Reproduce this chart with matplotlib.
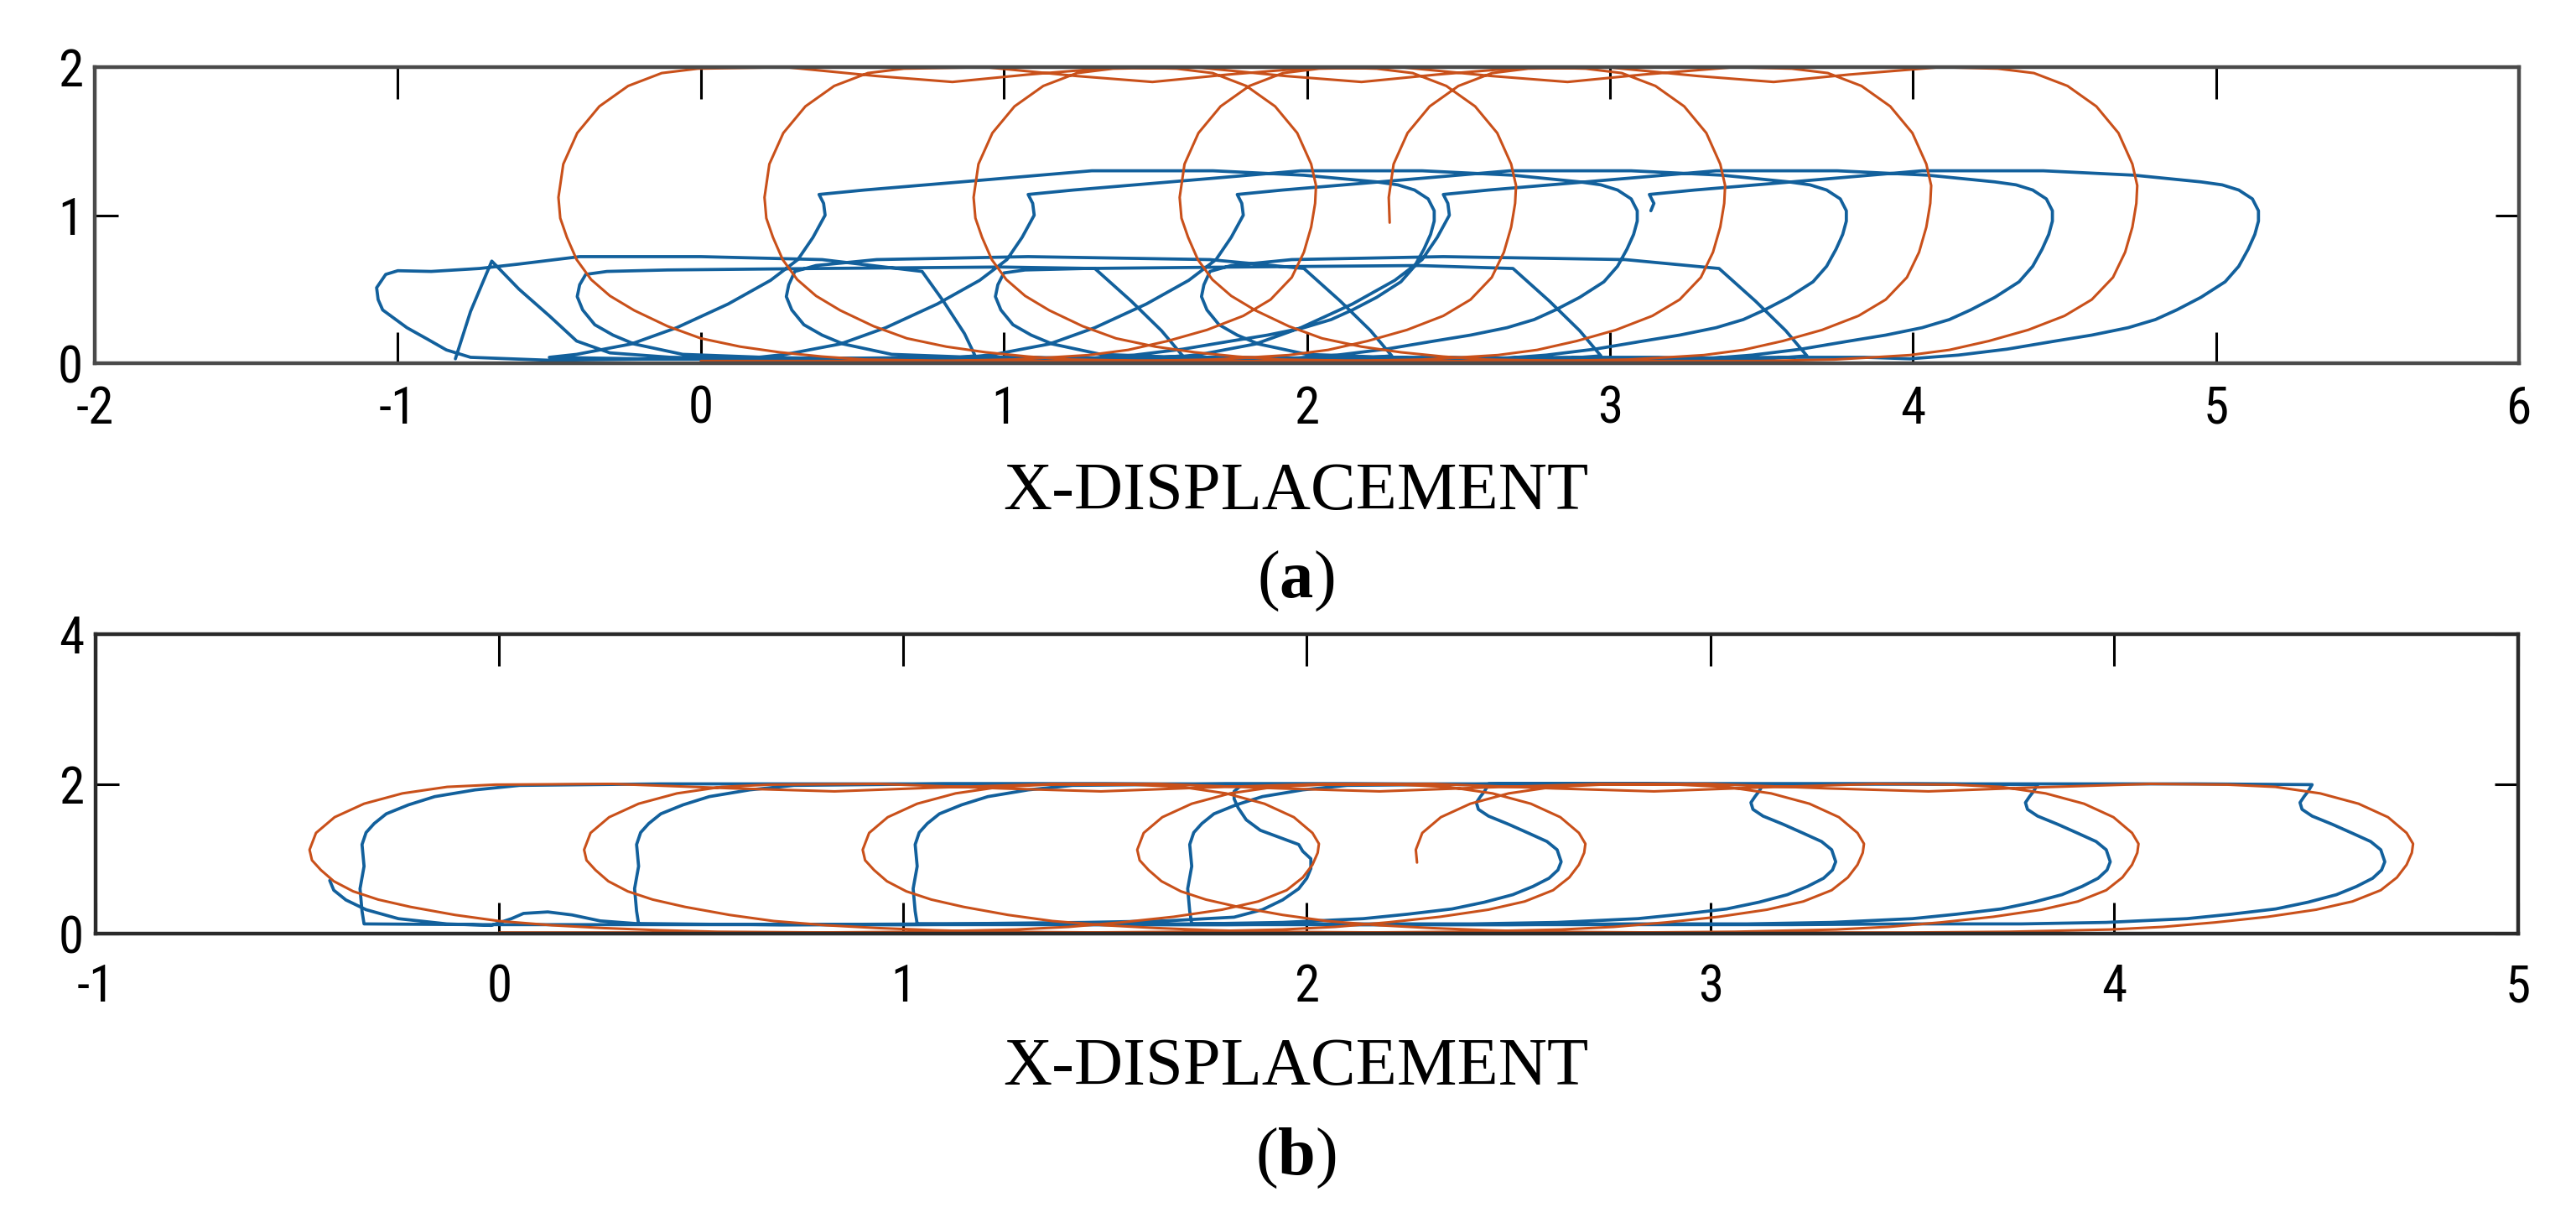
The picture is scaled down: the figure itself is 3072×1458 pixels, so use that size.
import numpy as np
import matplotlib
matplotlib.use("Agg")
import matplotlib.pyplot as plt
from matplotlib import font_manager

# ---------------- data ----------------
# reference (desired) trajectory, orange, same in both panels
ORANGE_PATH = [
    (0.00, 0.015), (0.30, 0.015), (0.60, 0.015),
    # loop 1
    (0.78, 0.015), (1.03, 0.025), (1.16, 0.04), (1.28, 0.055), (1.41, 0.09), (1.54, 0.15), (1.67, 0.225),
    (1.79, 0.32), (1.88, 0.43), (1.95, 0.58), (1.99, 0.75), (2.014, 0.92), (2.027, 1.08), (2.03, 1.2),
    (2.014, 1.345), (1.968, 1.555), (1.895, 1.735), (1.80, 1.873), (1.689, 1.96), (1.57, 1.99),
    (1.38, 2.00), (1.08, 1.95), (0.83, 1.90), (0.58, 1.94), (0.28, 2.00),
    (-0.01, 1.99), (-0.129, 1.96), (-0.24, 1.873), (-0.335, 1.735), (-0.408, 1.555), (-0.454, 1.345),
    (-0.47, 1.12), (-0.464, 0.98), (-0.442, 0.85), (-0.41, 0.70), (-0.362, 0.565), (-0.30, 0.455),
    (-0.22, 0.357), (-0.11, 0.25), (0.00, 0.168), (0.13, 0.112), (0.26, 0.074), (0.40, 0.045),
    (0.54, 0.025), (0.83, 0.015),
    # loop 2
    (1.44, 0.015), (1.69, 0.025), (1.82, 0.04), (1.94, 0.055), (2.07, 0.09), (2.20, 0.15), (2.33, 0.225),
    (2.45, 0.32), (2.54, 0.43), (2.61, 0.58), (2.65, 0.75), (2.674, 0.92), (2.687, 1.08), (2.69, 1.2),
    (2.674, 1.345), (2.628, 1.555), (2.555, 1.735), (2.46, 1.873), (2.349, 1.96), (2.23, 1.99),
    (2.04, 2.00), (1.74, 1.95), (1.49, 1.90), (1.24, 1.94), (0.94, 2.00),
    (0.67, 1.99), (0.551, 1.96), (0.44, 1.873), (0.345, 1.735), (0.272, 1.555), (0.226, 1.345),
    (0.21, 1.12), (0.216, 0.98), (0.238, 0.85), (0.27, 0.70), (0.318, 0.565), (0.38, 0.455),
    (0.46, 0.357), (0.57, 0.25), (0.68, 0.168), (0.81, 0.112), (0.94, 0.074), (1.08, 0.045),
    (1.22, 0.025), (1.51, 0.015),
    # loop 3
    (2.13, 0.015), (2.38, 0.025), (2.51, 0.04), (2.63, 0.055), (2.76, 0.09), (2.89, 0.15), (3.02, 0.225),
    (3.14, 0.32), (3.23, 0.43), (3.30, 0.58), (3.34, 0.75), (3.364, 0.92), (3.377, 1.08), (3.38, 1.2),
    (3.364, 1.345), (3.318, 1.555), (3.245, 1.735), (3.15, 1.873), (3.039, 1.96), (2.92, 1.99),
    (2.73, 2.00), (2.43, 1.95), (2.18, 1.90), (1.93, 1.94), (1.63, 2.00),
    (1.36, 1.99), (1.241, 1.96), (1.13, 1.873), (1.035, 1.735), (0.962, 1.555), (0.916, 1.345),
    (0.90, 1.12), (0.906, 0.98), (0.928, 0.85), (0.96, 0.70), (1.008, 0.565), (1.07, 0.455),
    (1.15, 0.357), (1.26, 0.25), (1.37, 0.168), (1.50, 0.112), (1.63, 0.074), (1.77, 0.045),
    (1.91, 0.025), (2.20, 0.015),
    # loop 4
    (2.81, 0.015), (3.06, 0.025), (3.19, 0.04), (3.31, 0.055), (3.44, 0.09), (3.57, 0.15), (3.70, 0.225),
    (3.82, 0.32), (3.91, 0.43), (3.98, 0.58), (4.02, 0.75), (4.044, 0.92), (4.057, 1.08), (4.06, 1.2),
    (4.044, 1.345), (3.998, 1.555), (3.925, 1.735), (3.83, 1.873), (3.719, 1.96), (3.60, 1.99),
    (3.41, 2.00), (3.11, 1.95), (2.86, 1.90), (2.61, 1.94), (2.31, 2.00),
    (2.04, 1.99), (1.921, 1.96), (1.81, 1.873), (1.715, 1.735), (1.642, 1.555), (1.596, 1.345),
    (1.58, 1.12), (1.586, 0.98), (1.608, 0.85), (1.64, 0.70), (1.688, 0.565), (1.75, 0.455),
    (1.83, 0.357), (1.94, 0.25), (2.05, 0.168), (2.18, 0.112), (2.31, 0.074), (2.45, 0.045),
    (2.59, 0.025), (2.88, 0.015),
    # loop 5
    (3.49, 0.015), (3.74, 0.025), (3.87, 0.04), (3.99, 0.055), (4.12, 0.09), (4.25, 0.15), (4.38, 0.225),
    (4.50, 0.32), (4.59, 0.43), (4.66, 0.58), (4.70, 0.75), (4.724, 0.92), (4.737, 1.08), (4.74, 1.2),
    (4.724, 1.345), (4.678, 1.555), (4.605, 1.735), (4.51, 1.873), (4.399, 1.96), (4.28, 1.99),
    (4.09, 2.00), (3.79, 1.95), (3.54, 1.90), (3.29, 1.94), (2.99, 2.00),
    (2.73, 1.99), (2.611, 1.96), (2.50, 1.873), (2.405, 1.735), (2.332, 1.555), (2.286, 1.345),
    (2.27, 1.12), (2.273, 0.95),
]

# actual trajectory, panel (a), blue
BLUE_A_PATH = [
    (-0.81, 0.03), (-0.76, 0.35), (-0.69, 0.69), (-0.60, 0.50), (-0.50, 0.32), (-0.41, 0.15), (-0.30, 0.07),
    (-0.10, 0.04), (0.20, 0.03), (0.50, 0.03), (0.80, 0.03), (0.905, 0.05), (0.87, 0.20), (0.80, 0.42),
    (0.73, 0.62), (0.40, 0.70), (0.00, 0.72), (-0.40, 0.72), (-0.60, 0.67), (-0.73, 0.64), (-0.89, 0.62),
    (-1.00, 0.625), (-1.04, 0.60), (-1.07, 0.51), (-1.065, 0.43), (-1.05, 0.36), (-1.01, 0.30),
    (-0.97, 0.24), (-0.90, 0.16), (-0.84, 0.09), (-0.76, 0.04), (-0.50, 0.02),
    (-0.10, 0.03), (0.30, 0.03), (0.80, 0.04), (1.10, 0.04),
    # cycle 1
    (1.27, 0.03), (1.43, 0.055), (1.59, 0.095), (1.75, 0.15), (1.87, 0.19), (1.99, 0.24), (2.08, 0.295),
    (2.15, 0.36), (2.23, 0.445), (2.31, 0.55), (2.355, 0.655), (2.386, 0.77), (2.408, 0.87), (2.42, 0.96),
    (2.42, 1.03), (2.40, 1.11), (2.355, 1.17), (2.30, 1.205), (2.23, 1.225),
    (1.99, 1.27), (1.69, 1.30), (1.29, 1.30), (0.86, 1.225), (0.54, 1.17), (0.39, 1.14),
    (0.405, 1.08), (0.41, 1.00), (0.37, 0.85), (0.32, 0.70), (0.23, 0.56), (0.09, 0.40), (-0.08, 0.24),
    (-0.23, 0.13), (-0.41, 0.06), (-0.50, 0.04),
    (-0.21, 0.03), (0.39, 0.03), (0.99, 0.03), (1.46, 0.03), (1.59, 0.05),
    (1.52, 0.22), (1.42, 0.42), (1.30, 0.64),
    (0.99, 0.65), (0.39, 0.64), (-0.11, 0.63), (-0.31, 0.62), (-0.38, 0.60),
    (-0.40, 0.53), (-0.408, 0.45), (-0.39, 0.36), (-0.35, 0.26), (-0.29, 0.19), (-0.22, 0.13), (-0.06, 0.06),
    (0.34, 0.03), (0.94, 0.03), (1.50, 0.04), (1.79, 0.04),
    # cycle 2
    (1.94, 0.03), (2.10, 0.055), (2.26, 0.095), (2.42, 0.15), (2.54, 0.19), (2.66, 0.24), (2.75, 0.295),
    (2.82, 0.36), (2.90, 0.445), (2.98, 0.55), (3.025, 0.655), (3.056, 0.77), (3.078, 0.87), (3.09, 0.96),
    (3.09, 1.03), (3.07, 1.11), (3.025, 1.17), (2.97, 1.205), (2.90, 1.225),
    (2.68, 1.27), (2.38, 1.30), (1.98, 1.30), (1.55, 1.225), (1.23, 1.17), (1.08, 1.14),
    (1.095, 1.08), (1.10, 1.00), (1.06, 0.85), (1.01, 0.70), (0.92, 0.56), (0.78, 0.40), (0.61, 0.24),
    (0.46, 0.13), (0.28, 0.06), (0.19, 0.04),
    (0.48, 0.03), (1.08, 0.03), (1.68, 0.03), (2.15, 0.03), (2.28, 0.05),
    (2.21, 0.22), (2.11, 0.42), (1.99, 0.64),
    (1.68, 0.70), (1.08, 0.72), (0.58, 0.70), (0.38, 0.66), (0.31, 0.62),
    (0.29, 0.53), (0.282, 0.45), (0.30, 0.36), (0.34, 0.26), (0.40, 0.19), (0.47, 0.13), (0.63, 0.06),
    (1.03, 0.03), (1.63, 0.03), (2.19, 0.04), (2.48, 0.04),
    # cycle 3
    (2.63, 0.03), (2.79, 0.055), (2.95, 0.095), (3.11, 0.15), (3.23, 0.19), (3.35, 0.24), (3.44, 0.295),
    (3.51, 0.36), (3.59, 0.445), (3.67, 0.55), (3.715, 0.655), (3.746, 0.77), (3.768, 0.87), (3.78, 0.96),
    (3.78, 1.03), (3.76, 1.11), (3.715, 1.17), (3.66, 1.205), (3.59, 1.225),
    (3.37, 1.27), (3.07, 1.30), (2.67, 1.30), (2.24, 1.225), (1.92, 1.17), (1.77, 1.14),
    (1.785, 1.08), (1.79, 1.00), (1.75, 0.85), (1.70, 0.70), (1.61, 0.56), (1.47, 0.40), (1.30, 0.24),
    (1.15, 0.13), (0.97, 0.06), (0.88, 0.04),
    (1.17, 0.03), (1.77, 0.03), (2.37, 0.03), (2.84, 0.03), (2.97, 0.05),
    (2.90, 0.22), (2.80, 0.42), (2.68, 0.64),
    (2.37, 0.66), (1.77, 0.65), (1.27, 0.64), (1.07, 0.63), (1.00, 0.61),
    (0.98, 0.53), (0.972, 0.45), (0.99, 0.36), (1.03, 0.26), (1.09, 0.19), (1.16, 0.13), (1.32, 0.06),
    (1.72, 0.03), (2.32, 0.03), (2.88, 0.04), (3.16, 0.04),
    # cycle 4
    (3.31, 0.03), (3.47, 0.055), (3.63, 0.095), (3.79, 0.15), (3.91, 0.19), (4.03, 0.24), (4.12, 0.295),
    (4.19, 0.36), (4.27, 0.445), (4.35, 0.55), (4.395, 0.655), (4.426, 0.77), (4.448, 0.87), (4.46, 0.96),
    (4.46, 1.03), (4.44, 1.11), (4.395, 1.17), (4.34, 1.205), (4.27, 1.225),
    (4.05, 1.27), (3.75, 1.30), (3.35, 1.30), (2.92, 1.225), (2.60, 1.17), (2.45, 1.14),
    (2.465, 1.08), (2.47, 1.00), (2.43, 0.85), (2.38, 0.70), (2.29, 0.56), (2.15, 0.40), (1.98, 0.24),
    (1.83, 0.13), (1.65, 0.06), (1.56, 0.04),
    (1.85, 0.03), (2.45, 0.03), (3.05, 0.03), (3.52, 0.03), (3.65, 0.05),
    (3.58, 0.22), (3.48, 0.42), (3.36, 0.64),
    (3.05, 0.70), (2.45, 0.72), (1.95, 0.70), (1.75, 0.66), (1.68, 0.62),
    (1.66, 0.53), (1.652, 0.45), (1.67, 0.36), (1.71, 0.26), (1.77, 0.19), (1.84, 0.13), (2.00, 0.06),
    (2.40, 0.03), (3.00, 0.03), (3.56, 0.04), (3.84, 0.04),
    # cycle 5
    (3.99, 0.03), (4.15, 0.055), (4.31, 0.095), (4.47, 0.15), (4.59, 0.19), (4.71, 0.24), (4.80, 0.295),
    (4.87, 0.36), (4.95, 0.445), (5.03, 0.55), (5.075, 0.655), (5.106, 0.77), (5.128, 0.87), (5.14, 0.96),
    (5.14, 1.03), (5.12, 1.11), (5.075, 1.17), (5.02, 1.205), (4.95, 1.225),
    (4.73, 1.27), (4.43, 1.30), (4.03, 1.30), (3.60, 1.225), (3.28, 1.17), (3.13, 1.14),
    (3.145, 1.08), (3.135, 1.03),
]

# actual trajectory, panel (b), blue
BLUE_B_PATH = [
    (-0.42, 0.71), (-0.41, 0.58), (-0.38, 0.45), (-0.33, 0.32), (-0.25, 0.20), (-0.13, 0.13), (-0.02, 0.11),
    (0.03, 0.20), (0.06, 0.27), (0.12, 0.29), (0.18, 0.25), (0.25, 0.17), (0.35, 0.13), (0.70, 0.12),
    (1.10, 0.13), (1.45, 0.15), (1.65, 0.17),
    (1.82, 0.22), (1.89, 0.32), (1.94, 0.45), (1.98, 0.60), (2.00, 0.74), (2.01, 0.87), (2.01, 1.00),
    (1.99, 1.10), (1.98, 1.19), (1.93, 1.29), (1.885, 1.38), (1.85, 1.52), (1.83, 1.68), (1.82, 1.80),
    (1.82, 1.90), (1.84, 1.99),
    (1.50, 2.00), (0.90, 2.00), (0.40, 2.00),
    (0.05, 1.98), (-0.06, 1.92), (-0.16, 1.83), (-0.225, 1.72), (-0.28, 1.60), (-0.31, 1.47), (-0.33, 1.35),
    (-0.34, 1.19), (-0.335, 0.90), (-0.345, 0.60), (-0.34, 0.30), (-0.335, 0.13),
    (-0.05, 0.12), (0.50, 0.12), (1.00, 0.12), (1.40, 0.13),
    (1.73, 0.13), (1.94, 0.15), (2.14, 0.20), (2.25, 0.26), (2.36, 0.33), (2.44, 0.42), (2.51, 0.52),
    (2.56, 0.63), (2.60, 0.74), (2.622, 0.85), (2.63, 0.96), (2.62, 1.12), (2.595, 1.23), (2.55, 1.34),
    (2.50, 1.46), (2.45, 1.57), (2.425, 1.66), (2.42, 1.75), (2.43, 1.83), (2.44, 1.90), (2.45, 1.99),
    (2.10, 2.00), (1.50, 2.00), (1.10, 2.00),
    (0.73, 1.98), (0.62, 1.92), (0.52, 1.83), (0.455, 1.72), (0.40, 1.60), (0.37, 1.47), (0.35, 1.35),
    (0.34, 1.19), (0.345, 0.90), (0.335, 0.60), (0.34, 0.30), (0.345, 0.13),
    (0.70, 0.12), (1.20, 0.12), (1.80, 0.12), (2.10, 0.13),
    (2.41, 0.13), (2.62, 0.15), (2.82, 0.20), (2.93, 0.26), (3.04, 0.33), (3.12, 0.42), (3.19, 0.52),
    (3.24, 0.63), (3.28, 0.74), (3.302, 0.85), (3.31, 0.96), (3.30, 1.12), (3.275, 1.23), (3.23, 1.34),
    (3.18, 1.46), (3.13, 1.57), (3.105, 1.66), (3.10, 1.75), (3.11, 1.83), (3.12, 1.90), (3.13, 1.99),
    (2.80, 2.00), (2.20, 2.00), (1.80, 2.00),
    (1.42, 1.98), (1.31, 1.92), (1.21, 1.83), (1.145, 1.72), (1.09, 1.60), (1.06, 1.47), (1.04, 1.35),
    (1.03, 1.19), (1.035, 0.90), (1.025, 0.60), (1.03, 0.30), (1.035, 0.13),
    (1.40, 0.12), (2.00, 0.12), (2.50, 0.12), (2.80, 0.13),
    (3.09, 0.13), (3.30, 0.15), (3.50, 0.20), (3.61, 0.26), (3.72, 0.33), (3.80, 0.42), (3.87, 0.52),
    (3.92, 0.63), (3.96, 0.74), (3.982, 0.85), (3.99, 0.96), (3.98, 1.12), (3.955, 1.23), (3.91, 1.34),
    (3.86, 1.46), (3.81, 1.57), (3.785, 1.66), (3.78, 1.75), (3.79, 1.83), (3.80, 1.90), (3.81, 1.99),
    (3.50, 2.00), (2.90, 2.00), (2.50, 2.00),
    (2.10, 1.98), (1.99, 1.92), (1.89, 1.83), (1.825, 1.72), (1.77, 1.60), (1.74, 1.47), (1.72, 1.35),
    (1.71, 1.19), (1.715, 0.90), (1.705, 0.60), (1.71, 0.30), (1.715, 0.13),
    (2.10, 0.12), (2.70, 0.12), (3.20, 0.12), (3.50, 0.13),
    (3.77, 0.13), (3.98, 0.15), (4.18, 0.20), (4.29, 0.26), (4.40, 0.33), (4.48, 0.42), (4.55, 0.52),
    (4.60, 0.63), (4.64, 0.74), (4.662, 0.85), (4.67, 0.96), (4.66, 1.12), (4.635, 1.23), (4.59, 1.34),
    (4.54, 1.46), (4.49, 1.57), (4.465, 1.66), (4.46, 1.75), (4.47, 1.83), (4.48, 1.90), (4.49, 1.99),
    (4.20, 2.00), (3.60, 2.00), (3.00, 2.00), (2.45, 2.00),
]

XTICKS_A = [-2, -1, 0, 1, 2, 3, 4, 5, 6]
YTICKS_A = [0, 1, 2]
XTICKS_B = [-1, 0, 1, 2, 3, 4, 5]
YTICKS_B = [0, 2, 4]
XLABEL = "X-DISPLACEMENT"
PANEL_LETTERS = ["a", "b"]

BLUE = "#12609c"
ORANGE = "#c9501a"

# ---------------- fonts ----------------
entries = font_manager.fontManager.ttflist
names = {f.name for f in entries}
TICK_FONT, TICK_STRETCH, TICK_SIZE = "Liberation Sans", "normal", 44
for cand in ["Liberation Sans Narrow", "Arial Narrow", "Nimbus Sans Narrow", "Roboto Condensed",
             "Open Sans Condensed"]:
    if cand in names:
        TICK_FONT, TICK_STRETCH, TICK_SIZE = cand, "normal", 44
        break
else:
    for f in entries:
        if f.name in ("DejaVu Sans", "Open Sans", "Roboto", "Noto Sans") and \
                str(f.stretch) in ("condensed", "semi-condensed", "extra-condensed", "75", "87.5"):
            TICK_FONT, TICK_STRETCH, TICK_SIZE = f.name, "condensed", 42
            break
if TICK_FONT == "Liberation Sans" and "Liberation Sans" not in names:
    TICK_FONT, TICK_SIZE = "DejaVu Sans", 38
SERIF = "Liberation Serif" if "Liberation Serif" in names else "DejaVu Serif"

plt.rcParams["axes.unicode_minus"] = False
plt.rcParams["mathtext.fontset"] = "custom"
plt.rcParams["mathtext.rm"] = SERIF
plt.rcParams["mathtext.bf"] = SERIF + ":bold"

fig = plt.figure(figsize=(30.72, 14.58), dpi=100)
ax1 = fig.add_axes([0.0368, 0.7030, 0.9411, 0.2421])
ax2 = fig.add_axes([0.0371, 0.2366, 0.9404, 0.2449])

orange = np.array(ORANGE_PATH)
blue_a = np.array(BLUE_A_PATH)
blue_b = np.array(BLUE_B_PATH)

panels = [
    (ax1, blue_a, (-2, 6), (0, 2), XTICKS_A, YTICKS_A, 18.5, "#4a4a4a"),
    (ax2, blue_b, (-1, 5), (0, 4), XTICKS_B, YTICKS_B, 25.5, "#2a2a2a"),
]
for ax, blue, xl, yl, xt, yt, xpad, spc in panels:
    ax.plot(blue[:, 0], blue[:, 1], color=BLUE, lw=2.7, solid_joinstyle="round",
            solid_capstyle="round")
    ax.plot(orange[:, 0], orange[:, 1], color=ORANGE, lw=2.2, solid_joinstyle="round",
            solid_capstyle="round")
    ax.set_xlim(*xl)
    ax.set_ylim(*yl)
    ax.set_xticks(xt)
    ax.set_yticks(yt)
    ax.set_xticklabels([str(v) for v in xt])
    ax.set_yticklabels([str(v) for v in yt])
    ax.tick_params(axis="x", direction="in", top=True, bottom=True, length=27, width=2.2,
                   pad=xpad, labelsize=TICK_SIZE, color="black")
    ax.tick_params(axis="y", direction="in", left=True, right=True, length=20, width=2.2,
                   pad=10, labelsize=TICK_SIZE, color="black")
    for lab in ax.get_xticklabels() + ax.get_yticklabels():
        lab.set_family(TICK_FONT)
        lab.set_stretch(TICK_STRETCH)
    for sp in ax.spines.values():
        sp.set_linewidth(3.2)
        sp.set_color(spc)

# labels below each panel
fig.text(0.503, 0.5839, XLABEL, ha="center", va="baseline", fontsize=58, family=SERIF)
fig.text(0.503, 0.5119, r"($\mathbf{%s}$)" % PANEL_LETTERS[0], ha="center", va="baseline",
         fontsize=58, family=SERIF)
fig.text(0.503, 0.1130, XLABEL, ha="center", va="baseline", fontsize=58, family=SERIF)
fig.text(0.503, 0.0398, r"($\mathbf{%s}$)" % PANEL_LETTERS[1], ha="center", va="baseline",
         fontsize=58, family=SERIF)

fig.savefig("out.png", dpi=100)
